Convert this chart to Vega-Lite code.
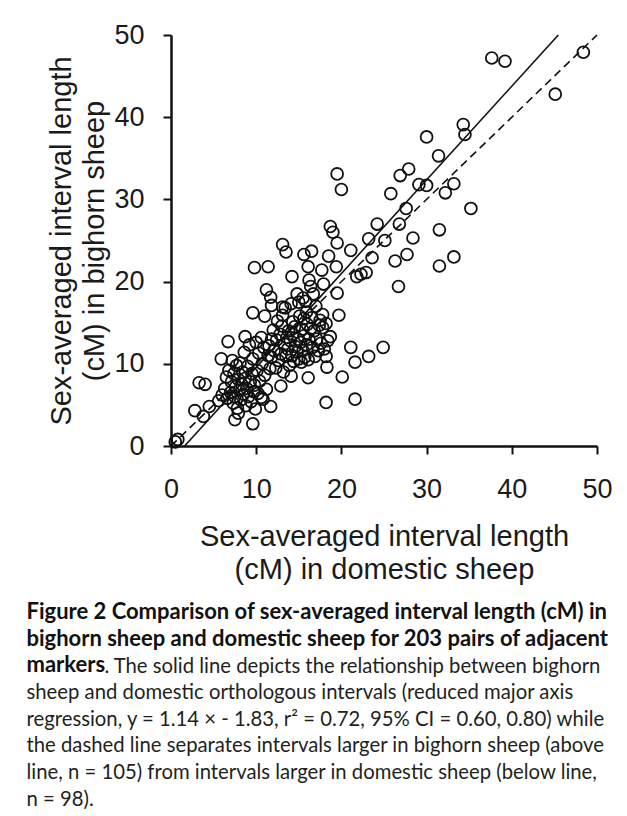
{
  "$schema": "https://vega.github.io/schema/vega-lite/v6.json",
  "autosize": {"type": "none"},
  "width": 426,
  "height": 411,
  "padding": {"left": 171, "top": 35, "right": 30, "bottom": 370},
  "background": "white",
  "config": {
    "view": {"stroke": null},
    "axis": {
      "grid": false,
      "domainColor": "#111111",
      "domainWidth": 2.5,
      "tickColor": "#111111",
      "tickWidth": 2,
      "tickSize": 8,
      "labelFont": "Liberation Sans",
      "labelFontSize": 27,
      "labelColor": "#1a1a1a",
      "labelFlush": false,
      "labelOverlap": false,
      "titleFont": "Liberation Sans",
      "titleFontSize": 29,
      "titleFontWeight": "normal",
      "titleColor": "#1a1a1a",
      "titleLineHeight": 33
    }
  },
  "title": {
    "text": ["Figure 2 Comparison of sex-averaged interval length (cM) in", "bighorn sheep and domestic sheep for 203 pairs of adjacent", "markers"],
    "subtitle": ["\u200b\u00a0\u00a0\u00a0\u00a0\u00a0\u00a0\u00a0\u00a0\u00a0\u00a0\u00a0\u00a0\u00a0\u00a0\u00a0. The solid line depicts the relationship between bighorn", "sheep and domestic orthologous intervals (reduced major axis", "regression, y = 1.14 × - 1.83, r² = 0.72, 95% CI = 0.60, 0.80) while", "the dashed line separates intervals larger in bighorn sheep (above", "line, n = 105) from intervals larger in domestic sheep (below line,", "n = 98)."],
    "orient": "bottom",
    "anchor": "start",
    "frame": "group",
    "dx": -144.5,
    "offset": 18,
    "font": "Lato",
    "fontSize": 22,
    "fontWeight": "bold",
    "lineHeight": 26.6,
    "color": "#111111",
    "subtitleFont": "Lato",
    "subtitleFontSize": 20.3,
    "subtitleFontWeight": "normal",
    "subtitleLineHeight": 26.6,
    "subtitleColor": "#231f20",
    "subtitlePadding": -20.6
  },
  "layer": [
    {
      "data": {"values": [
        {"domestic":0.5,"bighorn":0.5},{"domestic":0.8,"bighorn":0.8},{"domestic":2.8,"bighorn":4.3},{"domestic":3.8,"bighorn":3.6},{"domestic":4.5,"bighorn":4.8},{"domestic":5.6,"bighorn":5.5},{"domestic":3.3,"bighorn":7.7},{"domestic":4.0,"bighorn":7.5},{"domestic":7.5,"bighorn":3.2},{"domestic":9.6,"bighorn":2.7},
        {"domestic":7.9,"bighorn":4.0},{"domestic":11.7,"bighorn":4.8},{"domestic":10.8,"bighorn":5.7},{"domestic":6.7,"bighorn":12.7},{"domestic":5.9,"bighorn":10.6},{"domestic":9.8,"bighorn":21.7},{"domestic":11.4,"bighorn":21.8},{"domestic":9.6,"bighorn":16.2},{"domestic":11.0,"bighorn":15.8},{"domestic":11.2,"bighorn":19.0},
        {"domestic":11.7,"bighorn":18.1},{"domestic":11.8,"bighorn":17.1},{"domestic":13.1,"bighorn":24.5},{"domestic":13.5,"bighorn":23.6},{"domestic":15.6,"bighorn":23.3},{"domestic":16.5,"bighorn":23.7},{"domestic":18.5,"bighorn":23.1},{"domestic":19.4,"bighorn":21.8},{"domestic":17.7,"bighorn":21.4},{"domestic":16.1,"bighorn":21.8},
        {"domestic":14.2,"bighorn":20.6},{"domestic":16.2,"bighorn":20.2},{"domestic":16.4,"bighorn":19.4},{"domestic":17.9,"bighorn":19.7},{"domestic":19.5,"bighorn":18.6},{"domestic":14.8,"bighorn":18.5},{"domestic":15.5,"bighorn":18.0},{"domestic":16.7,"bighorn":18.5},{"domestic":15.0,"bighorn":17.5},{"domestic":13.1,"bighorn":16.9},
        {"domestic":13.1,"bighorn":15.9},{"domestic":19.7,"bighorn":15.9},{"domestic":17.8,"bighorn":16.0},{"domestic":15.9,"bighorn":16.3},{"domestic":15.6,"bighorn":15.5},{"domestic":14.3,"bighorn":15.1},{"domestic":17.4,"bighorn":14.7},{"domestic":16.4,"bighorn":14.3},{"domestic":18.2,"bighorn":14.9},{"domestic":18.7,"bighorn":13.3},
        {"domestic":8.7,"bighorn":13.3},{"domestic":10.6,"bighorn":13.2},{"domestic":21.1,"bighorn":12.0},{"domestic":24.9,"bighorn":12.0},{"domestic":21.6,"bighorn":10.2},{"domestic":23.2,"bighorn":10.9},{"domestic":18.2,"bighorn":10.9},{"domestic":18.3,"bighorn":9.6},{"domestic":20.1,"bighorn":8.4},{"domestic":16.1,"bighorn":8.3},
        {"domestic":18.2,"bighorn":5.3},{"domestic":21.6,"bighorn":5.7},{"domestic":14.1,"bighorn":8.5},{"domestic":12.9,"bighorn":7.3},{"domestic":18.7,"bighorn":26.7},{"domestic":19.0,"bighorn":26.0},{"domestic":19.5,"bighorn":24.7},{"domestic":21.1,"bighorn":23.8},{"domestic":19.5,"bighorn":33.1},{"domestic":20.0,"bighorn":31.2},
        {"domestic":23.2,"bighorn":25.2},{"domestic":24.2,"bighorn":27.0},{"domestic":25.1,"bighorn":25.0},{"domestic":23.6,"bighorn":22.9},{"domestic":22.3,"bighorn":20.9},{"domestic":22.9,"bighorn":21.1},{"domestic":21.8,"bighorn":20.6},{"domestic":26.3,"bighorn":22.5},{"domestic":27.7,"bighorn":23.3},{"domestic":26.7,"bighorn":19.4},
        {"domestic":26.8,"bighorn":27.0},{"domestic":27.6,"bighorn":28.9},{"domestic":28.4,"bighorn":25.3},{"domestic":25.8,"bighorn":30.7},{"domestic":26.9,"bighorn":32.9},{"domestic":27.9,"bighorn":33.7},{"domestic":29.1,"bighorn":31.8},{"domestic":30.0,"bighorn":31.7},{"domestic":30.0,"bighorn":37.6},{"domestic":31.4,"bighorn":35.3},
        {"domestic":32.2,"bighorn":30.8},{"domestic":33.2,"bighorn":31.9},{"domestic":31.5,"bighorn":26.3},{"domestic":31.5,"bighorn":21.9},{"domestic":33.2,"bighorn":23.0},{"domestic":35.2,"bighorn":28.9},{"domestic":34.3,"bighorn":39.1},{"domestic":34.5,"bighorn":37.9},{"domestic":37.65,"bighorn":47.2},{"domestic":39.2,"bighorn":46.8},
        {"domestic":45.1,"bighorn":42.8},{"domestic":48.4,"bighorn":47.9},
        {"domestic":6.0,"bighorn":6.2},{"domestic":6.3,"bighorn":7.0},{"domestic":6.5,"bighorn":8.4},{"domestic":6.6,"bighorn":5.8},{"domestic":6.8,"bighorn":9.2},{"domestic":7.0,"bighorn":6.5},{"domestic":7.1,"bighorn":7.8},{"domestic":7.2,"bighorn":10.4},{"domestic":7.3,"bighorn":5.2},{"domestic":7.4,"bighorn":8.8},
        {"domestic":7.5,"bighorn":6.0},{"domestic":7.6,"bighorn":7.2},{"domestic":7.7,"bighorn":9.8},{"domestic":7.8,"bighorn":4.6},{"domestic":7.9,"bighorn":8.1},{"domestic":8.0,"bighorn":6.8},{"domestic":8.1,"bighorn":10.1},{"domestic":8.2,"bighorn":5.6},{"domestic":8.3,"bighorn":7.5},{"domestic":8.4,"bighorn":9.0},
        {"domestic":8.5,"bighorn":6.3},{"domestic":8.6,"bighorn":11.4},{"domestic":8.7,"bighorn":8.2},{"domestic":8.8,"bighorn":4.9},{"domestic":8.9,"bighorn":7.0},{"domestic":9.0,"bighorn":9.7},{"domestic":9.1,"bighorn":6.0},{"domestic":9.2,"bighorn":12.3},{"domestic":9.3,"bighorn":7.8},{"domestic":9.4,"bighorn":5.4},
        {"domestic":9.5,"bighorn":8.8},{"domestic":9.6,"bighorn":10.6},{"domestic":9.7,"bighorn":6.6},{"domestic":9.8,"bighorn":7.4},{"domestic":9.9,"bighorn":4.5},{"domestic":10.0,"bighorn":12.6},{"domestic":10.1,"bighorn":9.2},{"domestic":10.2,"bighorn":6.4},{"domestic":10.3,"bighorn":11.3},{"domestic":10.4,"bighorn":7.9},
        {"domestic":10.6,"bighorn":5.9},{"domestic":10.7,"bighorn":10.0},{"domestic":10.9,"bighorn":12.0},{"domestic":11.0,"bighorn":8.6},{"domestic":11.2,"bighorn":6.9},{"domestic":11.4,"bighorn":11.0},{"domestic":11.6,"bighorn":9.4},{"domestic":11.8,"bighorn":13.0},
        {"domestic":11.5,"bighorn":12.2},{"domestic":11.8,"bighorn":10.8},{"domestic":12.0,"bighorn":14.1},{"domestic":12.1,"bighorn":11.6},{"domestic":12.3,"bighorn":9.5},{"domestic":12.4,"bighorn":12.9},{"domestic":12.5,"bighorn":15.2},{"domestic":12.6,"bighorn":10.4},{"domestic":12.8,"bighorn":13.6},{"domestic":12.9,"bighorn":11.2},
        {"domestic":13.0,"bighorn":14.6},{"domestic":13.2,"bighorn":9.0},{"domestic":13.3,"bighorn":12.4},{"domestic":13.4,"bighorn":16.8},{"domestic":13.5,"bighorn":10.9},{"domestic":13.6,"bighorn":13.2},{"domestic":13.7,"bighorn":11.8},{"domestic":13.8,"bighorn":14.0},{"domestic":13.9,"bighorn":9.8},{"domestic":14.0,"bighorn":12.8},
        {"domestic":14.1,"bighorn":17.3},{"domestic":14.2,"bighorn":11.0},{"domestic":14.3,"bighorn":13.6},{"domestic":14.4,"bighorn":10.3},{"domestic":14.5,"bighorn":14.5},{"domestic":14.6,"bighorn":12.1},{"domestic":14.8,"bighorn":11.4},{"domestic":14.9,"bighorn":13.0},{"domestic":15.0,"bighorn":10.6},{"domestic":15.1,"bighorn":15.8},
        {"domestic":15.2,"bighorn":12.6},{"domestic":15.3,"bighorn":10.2},{"domestic":15.4,"bighorn":14.2},{"domestic":15.5,"bighorn":11.6},{"domestic":15.6,"bighorn":13.4},{"domestic":15.7,"bighorn":10.8},{"domestic":15.8,"bighorn":17.6},{"domestic":15.9,"bighorn":12.3},{"domestic":16.0,"bighorn":14.8},{"domestic":16.1,"bighorn":10.5},
        {"domestic":16.2,"bighorn":13.0},{"domestic":16.5,"bighorn":15.6},{"domestic":16.6,"bighorn":12.0},{"domestic":16.8,"bighorn":14.0},{"domestic":16.9,"bighorn":10.9},{"domestic":17.0,"bighorn":17.0},{"domestic":17.1,"bighorn":13.0},{"domestic":17.3,"bighorn":11.6},{"domestic":17.5,"bighorn":15.3},{"domestic":17.6,"bighorn":12.5},
        {"domestic":17.8,"bighorn":14.4},{"domestic":18.0,"bighorn":11.8},{"domestic":18.4,"bighorn":12.8}
      ]},
      "mark": {"type": "point", "shape": "circle", "filled": false, "size": 140, "strokeWidth": 1.8, "color": "#111111", "opacity": 1},
      "encoding": {
        "x": {"field": "domestic", "type": "quantitative",
          "scale": {"domain": [0, 50], "nice": false},
          "axis": {"values": [0, 10, 20, 30, 40, 50], "labelPadding": 22,
            "title": ["Sex-averaged interval length", "(cM) in domestic sheep"],
            "titleX": 213, "titleY": 99, "titleAlign": "center", "titleBaseline": "alphabetic"}},
        "y": {"field": "bighorn", "type": "quantitative",
          "scale": {"domain": [0, 50], "nice": false},
          "axis": {"values": [0, 10, 20, 30, 40, 50], "labelPadding": 19,
            "title": ["Sex-averaged interval length", "(cM) in bighorn sheep"],
            "titleX": -110, "titleY": 205.5, "titleAngle": -90, "titleAlign": "center", "titleBaseline": "middle"}}
      }
    },
    {
      "data": {"values": [{"domestic": 1.6, "bighorn": 0}, {"domestic": 45.46, "bighorn": 50}]},
      "mark": {"type": "line", "color": "#111111", "strokeWidth": 1.6},
      "encoding": {
        "x": {"field": "domestic", "type": "quantitative"},
        "y": {"field": "bighorn", "type": "quantitative"}
      }
    },
    {
      "data": {"values": [{"domestic": 0, "bighorn": 0}, {"domestic": 50, "bighorn": 50}]},
      "mark": {"type": "line", "color": "#111111", "strokeWidth": 1.6, "strokeDash": [8, 5]},
      "encoding": {
        "x": {"field": "domestic", "type": "quantitative"},
        "y": {"field": "bighorn", "type": "quantitative"}
      }
    }
  ]
}
